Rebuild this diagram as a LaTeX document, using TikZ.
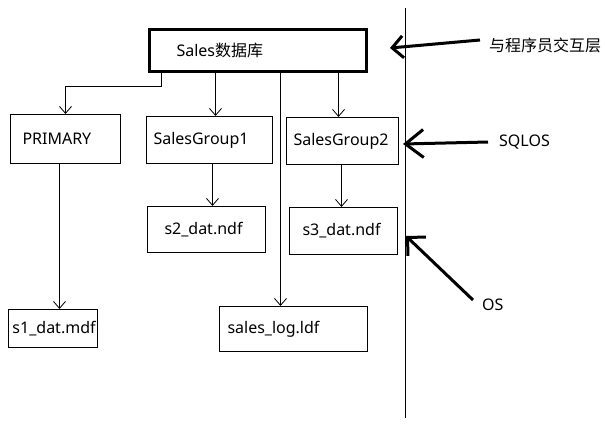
\documentclass[tikz,border=0pt]{standalone}
\usepackage{fontspec}
\setmainfont{Noto Sans}
\newfontfamily\cjk{Noto Sans CJK SC}
\usetikzlibrary{arrows.meta}

\tikzset{
  box/.style={draw, line width=1pt, anchor=north west, align=left, inner ysep=0pt},
  arr/.style={line width=0.8pt, -{Straight Barb[length=7pt,width=12pt]}},
  bigarr/.style={line width=3pt, -{Straight Barb[length=13pt,width=26pt]}},
}

\begin{document}
\begin{tikzpicture}[x=1pt,y=-1pt,font=\fontsize{16}{19}\selectfont]
	\useasboundingbox (0,0) rectangle (605,426);
	% database and files
	\node[box,line width=3pt,minimum height=42pt,text width=162pt,inner xsep=27.5pt] (sales) at (147.5,27.5) {Sales{\cjk 数据库}};
	\node[box,minimum height=49pt,text width=86pt,inner xsep=12pt] (primary) at (10,114) {PRIMARY};
	\node[box,minimum height=47pt,text width=112pt,inner xsep=7pt] (sg1) at (146,116) {SalesGroup1};
	\node[box,minimum height=47pt,text width=98pt,inner xsep=7pt] (sg2) at (286,117) {SalesGroup2};
	\node[box,minimum height=46pt,text width=84pt,inner xsep=17pt] (s2) at (147,206) {s2\_dat.ndf};
	\node[box,minimum height=47pt,text width=82pt,inner xsep=13pt] (s3) at (289,207) {s3\_dat.ndf};
	\node[box,minimum height=38pt,text width=81pt,inner xsep=4pt] (s1) at (8,309) {s1\_dat.mdf};
	\node[box,minimum height=45pt,text width=132pt,inner xsep=8pt] (log) at (219,306) {sales\_log.ldf};
	\draw[arr] ([xshift=14pt]sales.south west) -- ++(0,14) -| (primary.north);
	\draw[arr] ([xshift=6pt]sg1.north |- sales.south) -- ([xshift=6pt]sg1.north);
	\draw[arr] ([xshift=-4pt]sg2.north |- sales.south) -- ([xshift=-4pt]sg2.north);
	\draw[arr] ([xshift=-13pt]log.north |- sales.south) -- ([xshift=-13pt]log.north);
	\draw[arr] ([xshift=3pt]sg1.south) -- ([xshift=3pt]sg1.south |- s2.north);
	\draw[arr] ([xshift=-1pt]sg2.south) -- ([xshift=-1pt]sg2.south |- s3.north);
	\draw[arr] ([xshift=-6pt]primary.south) -- ([xshift=-6pt]primary.south |- s1.north);
	% layers
	\draw[line width=1pt] (405,8) -- (405,418);
	\coordinate (p1) at (390,48);
	\coordinate (p2) at (403,144);
	\coordinate (p3) at (406,236);
	\node[anchor=west,inner sep=0pt] (layer) at (489,45) {\cjk 与程序员交互层};
	\node[anchor=west,inner sep=0pt] (sqlos) at (499,142) {SQLOS};
	\node[anchor=west,inner sep=0pt] (os) at (482,305) {OS};
	\draw[bigarr,-{Straight Barb[length=11pt,width=22pt]}] ([xshift=-9pt,yshift=5pt]layer.west) -- (p1);
	\draw[bigarr,-{Straight Barb[length=18pt,width=28pt]}] ([xshift=-11pt]sqlos.west) -- (p2);
	\draw[bigarr] ([xshift=-9pt,yshift=5pt]os.west) -- (p3);
\end{tikzpicture}
\end{document}
